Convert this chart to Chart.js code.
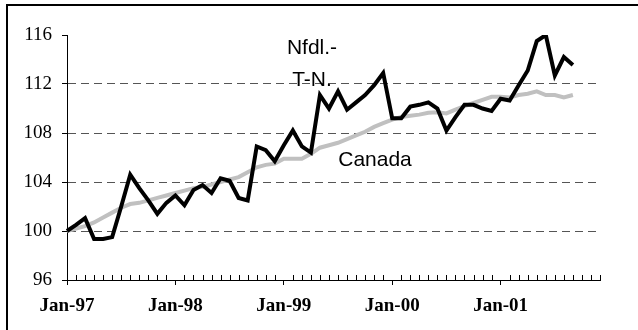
<!DOCTYPE html>
<html>
<head>
<meta charset="utf-8">
<script src="https://cdn.jsdelivr.net/npm/chart.js@4/dist/chart.umd.min.js"></script>
<style>
  html, body { margin: 0; padding: 0; background: #fff; }
  canvas { display: block; }
</style>
</head>
<body>
<canvas id="cpi" width="638" height="330"></canvas>
<script>
// monthly index, Jan-97 = 100
const months = ['Jan', 'Feb', 'Mar', 'Apr', 'May', 'Jun', 'Jul', 'Aug', 'Sep', 'Oct', 'Nov', 'Dec'];
const years = ['97', '98', '99', '00', '01'];

const nfld = [
  100.0, 100.5, 101.05, 99.35, 99.35, 99.5, 102.0, 104.6, 103.5, 102.5, 101.4, 102.3,
  102.9, 102.1, 103.35, 103.75, 103.1, 104.3, 104.1, 102.7, 102.5, 106.9, 106.6, 105.7,
  107.0, 108.2, 106.9, 106.4, 111.1, 110.0, 111.4, 109.9, 110.5, 111.1, 111.9, 112.9,
  109.2, 109.2, 110.15, 110.3, 110.5, 110.0, 108.2, 109.3, 110.3, 110.3, 110.0, 109.8,
  110.8, 110.65, 111.9, 113.1, 115.5, 116.0, 112.7, 114.2, 113.55
];
const canada = [
  100.0, 100.2, 100.4, 100.7, 101.1, 101.5, 101.9, 102.2, 102.3, 102.5, 102.7, 102.9,
  103.1, 103.3, 103.5, 103.6, 103.8, 104.0, 104.2, 104.4, 104.8, 105.2, 105.4, 105.5,
  105.9, 105.9, 105.9, 106.3, 106.8, 107.0, 107.2, 107.5, 107.8, 108.1, 108.5, 108.8,
  109.1, 109.3, 109.4, 109.5, 109.65, 109.7, 109.6, 109.9, 110.2, 110.45, 110.7, 110.95,
  110.95, 110.9, 111.1, 111.2, 111.4, 111.1, 111.1, 110.9, 111.1
];
const yTicks = { min: 96, max: 116, step: 4 };

const labels = [];
years.forEach(y => months.forEach(m => labels.push(m + '-' + y)));

// frame, minor month ticks and series names
const extras = {
  id: 'extras',
  afterDraw(chart) {
    const ctx = chart.ctx;
    const x = chart.scales.x;
    const bottom = chart.chartArea.bottom;
    ctx.save();
    ctx.strokeStyle = '#000';
    ctx.lineWidth = 1;
    ctx.beginPath();
    labels.forEach((l, i) => {
      if (i % 12 === 0) return;
      const px = Math.round(x.getPixelForValue(i)) + 0.5;
      ctx.moveTo(px, bottom);
      ctx.lineTo(px, bottom - 5);
    });
    ctx.stroke();

    ctx.lineWidth = 2;
    ctx.beginPath();
    ctx.moveTo(7, 330);
    ctx.lineTo(7, 5);
    ctx.lineTo(638, 5);
    ctx.stroke();

    ctx.fillStyle = '#000';
    ctx.font = '21px "Liberation Sans", Arial, sans-serif';
    ctx.textAlign = 'center';
    ctx.textBaseline = 'middle';
    ctx.fillText('Nfdl.-', 312, 48);
    ctx.fillText('T-N.', 312, 80);
    ctx.fillText('Canada', 375, 160);
    ctx.restore();
  }
};

new Chart(document.getElementById('cpi').getContext('2d'), {
  type: 'line',
  data: {
    labels: labels,
    datasets: [{
      label: 'Nfld.',
      data: nfld,
      borderColor: '#000',
      borderWidth: 4,
      borderJoinStyle: 'miter',
      pointRadius: 0,
      tension: 0
    }, {
      label: 'Canada',
      data: canada,
      borderColor: '#c0c0c0',
      borderWidth: 4,
      pointRadius: 0,
      tension: 0
    }]
  },
  plugins: [extras],
  options: {
    responsive: false,
    animation: false,
    devicePixelRatio: 1,
    layout: { padding: { left: 0, top: 35, right: 38, bottom: 0 } },
    plugins: { legend: { display: false }, tooltip: { enabled: false } },
    scales: {
      x: {
        offset: false,
        afterFit: s => { s.height = 50; },
        grid: {
          drawOnChartArea: false,
          tickLength: 5,
          color: c => (c.index % 12 === 0 ? '#000' : 'transparent'),
          tickColor: c => (c.index % 12 === 0 ? '#000' : 'transparent')
        },
        border: { color: '#000', width: 1 },
        ticks: {
          autoSkip: false,
          maxRotation: 0,
          padding: 10,
          color: '#000',
          font: { family: '"Liberation Serif", "Times New Roman", serif', size: 19, weight: 'bold' },
          callback: function (v, i) { return i % 12 === 0 ? labels[i] : ''; }
        }
      },
      y: {
        min: yTicks.min,
        max: yTicks.max,
        afterFit: s => { s.width = 67; },
        grid: {
          tickLength: 5,
          lineWidth: 1,
          color: c => (c.tick && c.tick.value > yTicks.min && c.tick.value < yTicks.max ? '#555' : 'transparent'),
          tickColor: '#000'
        },
        border: { color: '#000', width: 1, dash: [8, 5] },
        ticks: {
          stepSize: yTicks.step,
          padding: 10,
          color: '#000',
          font: { family: '"Liberation Serif", "Times New Roman", serif', size: 19 }
        }
      }
    }
  }
});
</script>
</body>
</html>
